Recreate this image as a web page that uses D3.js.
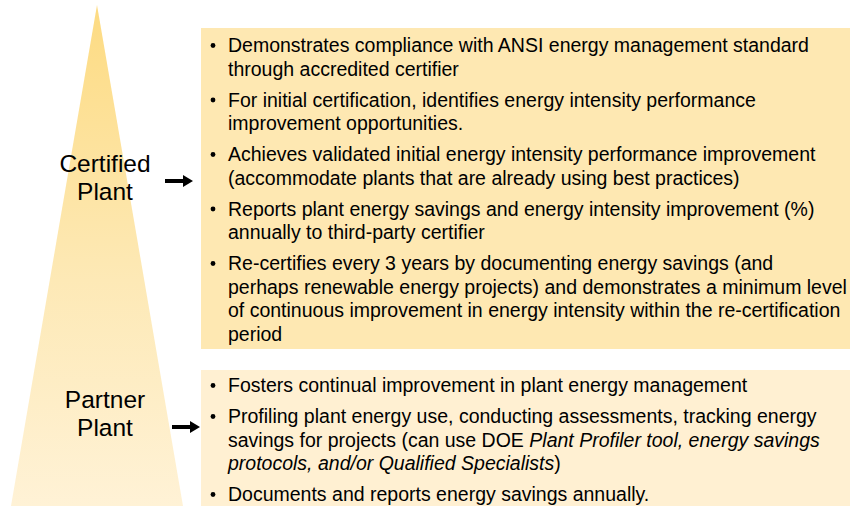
<!DOCTYPE html>
<html>
<head>
<meta charset="utf-8">
<script src="https://cdn.jsdelivr.net/npm/d3@7"></script>
<style>
	body { margin: 0; background: #fff; }
	svg { display: block; }
</style>
</head>
<body>
<svg id="tier-svg"></svg>
<script>
'use strict';

var WIDTH = 850,
	HEIGHT = 506;

// tiers, top to bottom
var tierNames = [["Certified", "Plant"], ["Partner", "Plant"]];

// bullet lines per tier; *text* is italic
var certifiedBullets = [
	["Demonstrates compliance with ANSI energy management standard", "through accredited certifier"],
	["For initial certification, identifies energy intensity performance", "improvement opportunities."],
	["Achieves validated initial energy intensity performance improvement", "(accommodate plants that are already using best practices)"],
	["Reports plant energy savings and energy intensity improvement (%)", "annually to third-party certifier"],
	["Re-certifies every 3 years by documenting energy savings (and", "perhaps renewable energy projects) and demonstrates a minimum level", "of continuous improvement in energy intensity within the re-certification", "period"]
];

var partnerBullets = [
	["Fosters continual improvement in plant energy management"],
	["Profiling plant energy use, conducting assessments, tracking energy", "savings for projects (can use DOE *Plant Profiler tool, energy savings", "*protocols, and/or Qualified Specialists*)"],
	["Documents and reports energy savings annually."]
];

var svg = d3.select("#tier-svg")
	.attr("width", WIDTH)
	.attr("height", HEIGHT);

var defs = svg.append("defs");
var grad = defs.append("linearGradient")
	.attr("id", "tri-grad")
	.attr("x1", 0).attr("x2", 0)
	.attr("y1", 0).attr("y2", 1);
grad.append("stop").attr("offset", "0%").attr("stop-color", "#fddb82");
grad.append("stop").attr("offset", "55%").attr("stop-color", "#fde9b6");
grad.append("stop").attr("offset", "100%").attr("stop-color", "#fff2d6");

// pyramid
var apexX = 97, apexY = 5, baseY = HEIGHT, baseHalf = 86;
var yScale = d3.scaleLinear().domain([apexY, baseY]).range([0, baseHalf]);

svg.append("path")
	.attr("d", d3.line()([
		[apexX, apexY],
		[apexX + yScale(baseY), baseY],
		[apexX - yScale(baseY), baseY]
	]) + "Z")
	.style("fill", "url(#tri-grad)");

// boxes
var boxes = [
	{ y0: 28, y1: 349, fill: "#fee8b2", bullets: certifiedBullets, first: 52, arrowX: 165, arrowY: 181, label: 172 },
	{ y0: 370, y1: 506, fill: "#fff0d2", bullets: partnerBullets, first: 392, arrowX: 172, arrowY: 427, label: 408 }
];

var LINE_H = 23.5,
	ITEM_GAP = 7.5,
	BOX_X = 201,
	BULLET_X = 213,
	TEXT_X = 228;

boxes.forEach(function (b, bi) {
	svg.append("rect")
		.attr("x", BOX_X)
		.attr("y", b.y0)
		.attr("width", WIDTH - BOX_X)
		.attr("height", b.y1 - b.y0)
		.style("fill", b.fill);

	var y = b.first;
	b.bullets.forEach(function (lines) {
		svg.append("circle")
			.attr("cx", BULLET_X)
			.attr("cy", y - 6.5)
			.attr("r", 2.4)
			.style("fill", "#000");

		lines.forEach(function (line) {
			var t = svg.append("text")
				.attr("x", TEXT_X)
				.attr("y", y)
				.style("font-family", "'Liberation Sans', Arial, sans-serif")
				.style("font-size", "19.5px")
				.style("fill", "#000");
			line.split("*").forEach(function (seg, si) {
				if (!seg) return;
				t.append("tspan")
					.style("font-style", si % 2 ? "italic" : "normal")
					.text(seg);
			});
			y += LINE_H;
		});
		y += ITEM_GAP;
	});

	// tier label
	svg.append("text")
		.attr("x", 105)
		.attr("y", b.label)
		.attr("text-anchor", "middle")
		.style("font-family", "'Liberation Sans', Arial, sans-serif")
		.style("font-size", "24.5px")
		.style("fill", "#000")
		.selectAll("tspan")
		.data(tierNames[bi])
		.enter()
		.append("tspan")
		.attr("x", 105)
		.attr("dy", function (d, i) { return i ? 28 : 0; })
		.text(function (d) { return d; });

	// arrow
	var ax = b.arrowX, ay = b.arrowY;
	svg.append("path")
		.attr("d", d3.line()([
			[ax, ay - 2], [ax + 18, ay - 2], [ax + 18, ay - 6],
			[ax + 28, ay], [ax + 18, ay + 6], [ax + 18, ay + 2], [ax, ay + 2]
		]) + "Z")
		.style("fill", "#000");
});
</script>
</body>
</html>
